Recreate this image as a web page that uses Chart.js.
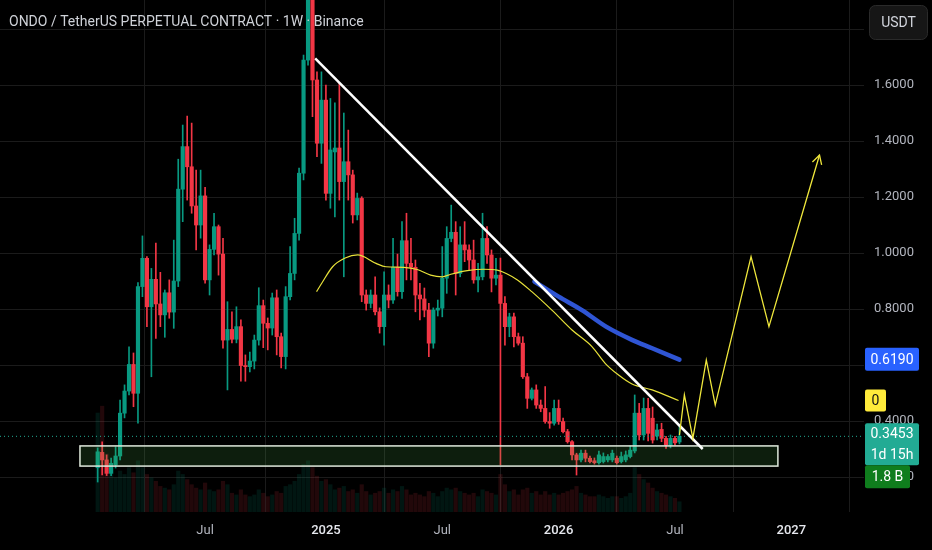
<!DOCTYPE html>
<html>
<head>
<meta charset="utf-8">
<script src="https://cdn.jsdelivr.net/npm/chart.js@4.4.0/dist/chart.umd.min.js"></script>
<style>
  html, body { margin: 0; padding: 0; background: #000; }
  canvas { display: block; }
</style>
</head>
<body>
<canvas id="chart" width="932" height="550"></canvas>
<script>
// weekly candles, index 0 = first listed week
var opens = [0.233,0.288,0.261,0.213,0.243,0.275,0.428,0.507,0.602,0.499,
  0.880,0.981,0.808,0.906,0.818,0.779,0.858,0.789,0.900,1.228,
  1.380,1.308,1.168,1.100,1.204,0.904,1.013,1.094,0.996,0.689,
  0.727,0.692,0.737,0.598,0.594,0.614,0.689,0.812,0.749,0.732,
  0.840,0.701,0.630,0.844,0.927,1.070,1.285,1.689,1.957,1.618,
  1.392,1.546,1.213,1.361,1.375,1.255,1.326,1.279,1.136,1.195,
  0.850,0.820,0.850,0.790,0.737,0.850,0.832,0.949,0.862,1.044,
  0.963,0.949,0.850,0.836,0.796,0.678,0.796,0.803,0.910,1.052,
  1.074,0.927,1.029,1.011,0.975,0.904,0.915,1.052,0.993,0.910,
  0.921,0.820,0.737,0.772,0.701,0.678,0.558,0.481,0.511,0.457,
  0.445,0.398,0.392,0.445,0.398,0.362,0.326,0.279,0.261,0.285,
  0.267,0.258,0.251,0.255,0.261,0.261,0.267,0.255,0.261,0.273,
  0.293,0.428,0.350,0.445,0.410,0.346,0.370,0.338,0.314,0.338,
  0.325];
var highs = [0.304,0.326,0.279,0.268,0.308,0.475,0.529,0.665,0.643,0.894,
  1.061,0.987,0.945,1.035,0.931,0.868,0.904,1.046,1.335,1.457,
  1.489,1.464,1.296,1.296,1.235,1.029,1.142,1.100,1.052,0.826,
  0.790,0.808,0.761,0.636,0.646,0.707,0.876,0.832,0.768,0.857,
  0.868,0.714,0.880,1.023,1.124,1.303,1.707,2.118,2.011,1.647,
  1.647,1.600,1.552,1.536,1.607,1.500,1.439,1.296,1.214,1.201,
  0.868,0.868,0.915,0.804,0.933,0.886,1.052,0.996,1.112,1.142,
  1.052,0.975,0.892,0.875,0.820,0.804,0.832,1.023,1.094,1.171,
  1.112,1.094,1.112,1.029,1.046,0.963,1.142,1.094,1.011,0.981,
  0.982,0.844,0.785,0.785,0.714,0.701,0.570,0.518,0.529,0.475,
  0.523,0.430,0.475,0.475,0.410,0.370,0.330,0.285,0.296,0.296,
  0.275,0.268,0.293,0.286,0.280,0.296,0.275,0.289,0.293,0.311,
  0.493,0.463,0.482,0.481,0.450,0.389,0.392,0.345,0.350,0.345,
  0.386];
var lows = [0.182,0.207,0.205,0.205,0.232,0.261,0.411,0.493,0.451,0.392,
  0.844,0.737,0.558,0.695,0.737,0.699,0.767,0.731,0.880,1.112,
  1.189,1.142,1.011,1.053,0.892,0.850,0.993,0.921,0.660,0.511,
  0.679,0.679,0.542,0.542,0.575,0.586,0.671,0.662,0.654,0.707,
  0.636,0.590,0.586,0.832,0.904,1.046,1.261,1.671,1.487,1.344,
  1.320,1.189,1.160,1.129,1.189,0.915,1.189,1.107,1.118,0.826,
  0.796,0.804,0.779,0.714,0.671,0.804,0.820,0.846,0.838,0.904,
  0.904,0.790,0.761,0.772,0.630,0.660,0.775,0.772,0.856,1.040,
  0.850,0.915,0.969,0.939,0.892,0.861,0.904,0.963,0.861,0.886,
  0.243,0.671,0.701,0.665,0.671,0.552,0.445,0.475,0.445,0.433,
  0.392,0.374,0.385,0.388,0.357,0.321,0.261,0.207,0.254,0.254,
  0.250,0.246,0.246,0.250,0.254,0.254,0.246,0.250,0.254,0.268,
  0.286,0.332,0.332,0.329,0.321,0.332,0.326,0.302,0.304,0.314,
  0.318];
var closes = [0.290,0.261,0.213,0.249,0.275,0.428,0.507,0.602,0.499,0.880,
  0.981,0.808,0.906,0.818,0.779,0.858,0.789,0.900,1.228,1.380,
  1.308,1.168,1.100,1.204,0.904,1.013,1.094,0.996,0.689,0.727,
  0.692,0.737,0.598,0.594,0.614,0.689,0.812,0.749,0.732,0.840,
  0.701,0.630,0.844,0.927,1.070,1.285,1.689,1.957,1.618,1.392,
  1.546,1.213,1.368,1.375,1.255,1.326,1.279,1.136,1.195,0.850,
  0.820,0.850,0.790,0.737,0.850,0.832,0.949,0.862,1.044,0.963,
  0.949,0.850,0.836,0.796,0.678,0.796,0.803,0.910,1.052,1.074,
  0.927,1.029,1.011,0.975,0.904,0.915,1.052,0.993,0.910,0.921,
  0.820,0.737,0.772,0.701,0.678,0.558,0.481,0.511,0.457,0.445,
  0.398,0.392,0.445,0.398,0.362,0.326,0.279,0.261,0.285,0.267,
  0.255,0.251,0.279,0.273,0.273,0.285,0.251,0.273,0.279,0.296,
  0.428,0.350,0.445,0.356,0.332,0.368,0.338,0.314,0.338,0.322,
  0.3453];
// volume in billions USDT
var volumes = [5.8,6.2,3.4,2.6,2.0,2.4,2.2,2.6,2.3,3.0,
  2.6,2.2,2.0,1.8,1.5,1.4,1.3,1.6,2.4,2.2,
  1.9,1.6,1.4,1.3,1.7,1.3,1.2,1.3,1.8,1.6,
  1.1,1.0,1.3,1.0,0.9,1.0,1.3,1.1,0.9,1.0,
  1.2,1.1,1.5,1.6,1.8,2.2,2.8,3.0,2.6,2.1,
  1.8,1.9,1.6,1.3,1.4,1.5,1.2,1.3,1.1,1.6,
  1.2,1.0,1.1,1.2,1.4,1.1,1.3,1.2,1.5,1.3,
  1.0,1.1,1.0,0.9,1.2,1.1,0.9,1.2,1.4,1.3,
  1.4,1.2,1.1,1.0,1.1,0.9,1.3,1.2,1.1,1.0,
  2.2,1.6,1.2,1.3,1.0,1.3,1.4,1.1,1.2,1.0,
  1.2,1.0,1.1,1.0,1.1,1.2,1.3,1.5,1.1,1.0,
  0.9,0.9,1.0,0.9,0.8,0.9,0.9,0.8,0.9,1.1,
  2.6,2.2,1.9,1.7,1.4,1.2,1.1,1.0,0.9,0.8,
  0.6];

// yellow moving average
var maWeeks = [48.9,50.1,52.5,55.3,58.1,62.2,64.4,68.4,71.4,74.4,77.0,78.9,82.6,86.3,89.3,91.5,93.8,97.0,101.5,106.0,110.5,113.4,116.4,119.4,123.9,129.8];
var maValues = [0.862,0.893,0.951,0.982,0.993,0.963,0.951,0.949,0.941,0.921,0.915,0.924,0.937,0.942,0.939,0.925,0.904,0.862,0.796,0.725,0.665,0.606,0.564,0.532,0.511,0.473];
// blue moving average
var ma2Weeks = [97.6,103.0,108.2,113.6,119.5,123.9,130.0];
var ma2Values = [0.898,0.844,0.796,0.737,0.689,0.660,0.619];
// drawn trend line and projected path
var trendWeeks = [48.6,135.2];
var trendPrices = [1.695,0.300];
var pathWeeks = [130.0,131.1,133.0,136.0,138.0,146.0,150.0,161.3];
var pathPrices = [0.350,0.493,0.338,0.618,0.457,0.987,0.737,1.350];
// support zone
var zoneWeeks = [-3.96,152.0];
var zonePrices = [0.239,0.311];

var weekTicks = [24,51,77,103,129,155];
var weekTickLabels = ['Jul','2025','Jul','2026','Jul','2027'];
var priceTicks = [0.2,0.4,0.6,0.8,1.0,1.2,1.4,1.6,1.8];

var xMin = -21.83, xMax = 171.24;
var yMin = 0.075, yMax = 1.9036;
var lastPrice = closes[closes.length - 1];

var GREEN = '#089981';
var RED = '#f23645';

Chart.defaults.font.family = 'Roboto, "Noto Sans", sans-serif';

var weeks = opens.map(function (o, i) { return i; });
var up = closes.map(function (c, i) { return c >= opens[i]; });
var candleColors = up.map(function (u) { return u ? GREEN : RED; });
var volColors = up.map(function (u) { return u ? 'rgba(8,153,129,0.14)' : 'rgba(242,54,69,0.14)'; });

function isYear(label) { return /^\d/.test(label); }

function noPad(s) {
    s.paddingTop = 0; s.paddingBottom = 0; s.paddingLeft = 0; s.paddingRight = 0;
}

function tag(ctx, x, y, w, h, bg, lines, fg) {
    ctx.fillStyle = bg;
    ctx.beginPath();
    ctx.roundRect(x, y, w, h, 2);
    ctx.fill();
    ctx.fillStyle = fg;
    ctx.font = '14px Roboto';
    ctx.textAlign = 'center';
    ctx.textBaseline = 'middle';
    var step = h / lines.length;
    for (var i = 0; i < lines.length; i++) {
        ctx.fillText(lines[i], x + w / 2, y + step * i + step / 2 + 1);
    }
}

var overlay = {
    id: 'overlay',
    afterDatasetDraw: function (chart, args) {
        if (args.meta.label !== 'Bodies') return;
        // support zone over the candles
        var ctx = chart.ctx, xs = chart.scales.x, ys = chart.scales.y;
        var x1 = xs.getPixelForValue(zoneWeeks[0]), x2 = xs.getPixelForValue(zoneWeeks[1]);
        var y1 = ys.getPixelForValue(zonePrices[1]), y2 = ys.getPixelForValue(zonePrices[0]);
        ctx.save();
        ctx.fillStyle = 'rgba(76,175,80,0.17)';
        ctx.fillRect(x1, y1, x2 - x1, y2 - y1);
        ctx.strokeStyle = '#dfe9dc';
        ctx.lineWidth = 1.5;
        ctx.strokeRect(x1, y1, x2 - x1, y2 - y1);
        ctx.restore();
    },
    afterDatasetsDraw: function (chart) {
        // arrow head at the end of the path
        var ctx = chart.ctx, xs = chart.scales.x, ys = chart.scales.y;
        var n = pathWeeks.length;
        var tx = xs.getPixelForValue(pathWeeks[n - 1]), ty = ys.getPixelForValue(pathPrices[n - 1]);
        var px = xs.getPixelForValue(pathWeeks[n - 2]), py = ys.getPixelForValue(pathPrices[n - 2]);
        var a = Math.atan2(ty - py, tx - px);
        ctx.save();
        ctx.strokeStyle = '#f0e83c';
        ctx.lineWidth = 1.3;
        ctx.beginPath();
        ctx.moveTo(tx - 10 * Math.cos(a - 0.5), ty - 10 * Math.sin(a - 0.5));
        ctx.lineTo(tx, ty);
        ctx.lineTo(tx - 10 * Math.cos(a + 0.5), ty - 10 * Math.sin(a + 0.5));
        ctx.stroke();
        ctx.restore();
    },
    afterDraw: function (chart) {
        var ctx = chart.ctx, ys = chart.scales.y;
        var left = chart.chartArea.right + 1;
        ctx.save();
        // title
        ctx.fillStyle = '#cfd2d8';
        ctx.font = '14px Roboto';
        ctx.textAlign = 'left';
        ctx.textBaseline = 'middle';
        ctx.fillText('ONDO / TetherUS PERPETUAL CONTRACT · 1W · Binance', 9, 22);
        // currency button
        ctx.fillStyle = '#161616';
        ctx.strokeStyle = '#2a2a2a';
        ctx.lineWidth = 1;
        ctx.beginPath();
        ctx.roundRect(869.5, 5.5, 58, 34, 6);
        ctx.fill();
        ctx.stroke();
        ctx.fillStyle = '#d1d4dc';
        ctx.font = '14px Roboto';
        ctx.textAlign = 'center';
        ctx.fillText('USDT', 898.5, 23);
        // price tags
        var yBlue = ys.getPixelForValue(ma2Values[ma2Values.length - 1]);
        tag(ctx, left, yBlue - 12, 54, 23, '#2962ff', [ma2Values[ma2Values.length - 1].toFixed(4)], '#ffffff');
        var yYel = ys.getPixelForValue(maValues[maValues.length - 1]);
        tag(ctx, left, yYel - 11, 21, 22, '#ffeb3b', ['0'], '#131313');
        var yLast = ys.getPixelForValue(lastPrice);
        tag(ctx, left, yLast - 13, 54, 42, '#22ab94', [lastPrice.toFixed(4), '1d 15h'], '#ffffff');
        tag(ctx, left, yLast + 29, 45, 23, '#0f7d1d', ['1.8 B'], '#ffffff');
        ctx.restore();
    }
};

new Chart(document.getElementById('chart'), {
    type: 'bar',
    data: {
        datasets: [
            {
                label: 'Volume', yAxisID: 'yv', grouped: false, order: 9,
                data: weeks.map(function (i) { return { x: i, y: volumes[i] }; }),
                backgroundColor: volColors, barThickness: 3.5
            },
            {
                label: 'Wicks', grouped: false, order: 8,
                data: weeks.map(function (i) { return { x: i, y: [lows[i], highs[i]] }; }),
                backgroundColor: candleColors, barThickness: 1
            },
            {
                label: 'Bodies', grouped: false, order: 7,
                data: weeks.map(function (i) { return { x: i, y: [opens[i], closes[i]] }; }),
                backgroundColor: candleColors, barThickness: 3.5, minBarLength: 1
            },
            {
                type: 'line', label: 'Last', order: 6,
                data: [{ x: xMin, y: lastPrice }, { x: xMax, y: lastPrice }],
                borderColor: '#22ab94', borderWidth: 1, borderDash: [1, 3], pointRadius: 0
            },
            {
                type: 'line', label: 'MA yellow', order: 5,
                data: maWeeks.map(function (w, i) { return { x: w, y: maValues[i] }; }),
                borderColor: '#e8e23a', borderWidth: 1.2, pointRadius: 0, cubicInterpolationMode: 'monotone'
            },
            {
                type: 'line', label: 'MA blue', order: 4,
                data: ma2Weeks.map(function (w, i) { return { x: w, y: ma2Values[i] }; }),
                borderColor: '#2f55d4', borderWidth: 4.5, pointRadius: 0, borderCapStyle: 'round', cubicInterpolationMode: 'monotone'
            },
            {
                type: 'line', label: 'Trend', order: 3,
                data: trendWeeks.map(function (w, i) { return { x: w, y: trendPrices[i] }; }),
                borderColor: '#ffffff', borderWidth: 2.5, pointRadius: 0
            },
            {
                type: 'line', label: 'Path', order: 2,
                data: pathWeeks.map(function (w, i) { return { x: w, y: pathPrices[i] }; }),
                borderColor: '#f0e83c', borderWidth: 1.3, pointRadius: 0, tension: 0
            }
        ]
    },
    options: {
        responsive: false,
        animation: false,
        events: [],
        layout: { padding: 0 },
        plugins: { legend: { display: false }, tooltip: { enabled: false } },
        scales: {
            x: {
                type: 'linear', min: xMin, max: xMax, offset: false,
                grid: { color: '#1b1b1b', drawTicks: false },
                border: { display: false },
                afterBuildTicks: function (s) { s.ticks = weekTicks.map(function (v) { return { value: v }; }); },
                afterFit: function (s) { s.height = 38; noPad(s); },
                ticks: {
                    autoSkip: false, maxRotation: 0, padding: 11,
                    callback: function (v, i) { return weekTickLabels[i]; },
                    color: function (c) { return isYear(weekTickLabels[c.index]) ? '#e6e8ee' : '#b2b5be'; },
                    font: function (c) { return { size: 13, weight: isYear(weekTickLabels[c.index]) ? '500' : '400' }; }
                }
            },
            y: {
                type: 'linear', position: 'right', min: yMin, max: yMax,
                grid: { color: '#1b1b1b', drawTicks: false },
                border: { display: false },
                afterBuildTicks: function (s) { s.ticks = priceTicks.map(function (v) { return { value: v }; }); },
                afterFit: function (s) { s.width = 68; noPad(s); },
                ticks: {
                    padding: 10, color: '#b2b5be', font: { size: 13 },
                    callback: function (v) { return v.toFixed(4); }
                }
            },
            yv: { type: 'linear', display: false, min: 0, max: 30 }
        }
    },
    plugins: [overlay]
});
</script>
</body>
</html>
